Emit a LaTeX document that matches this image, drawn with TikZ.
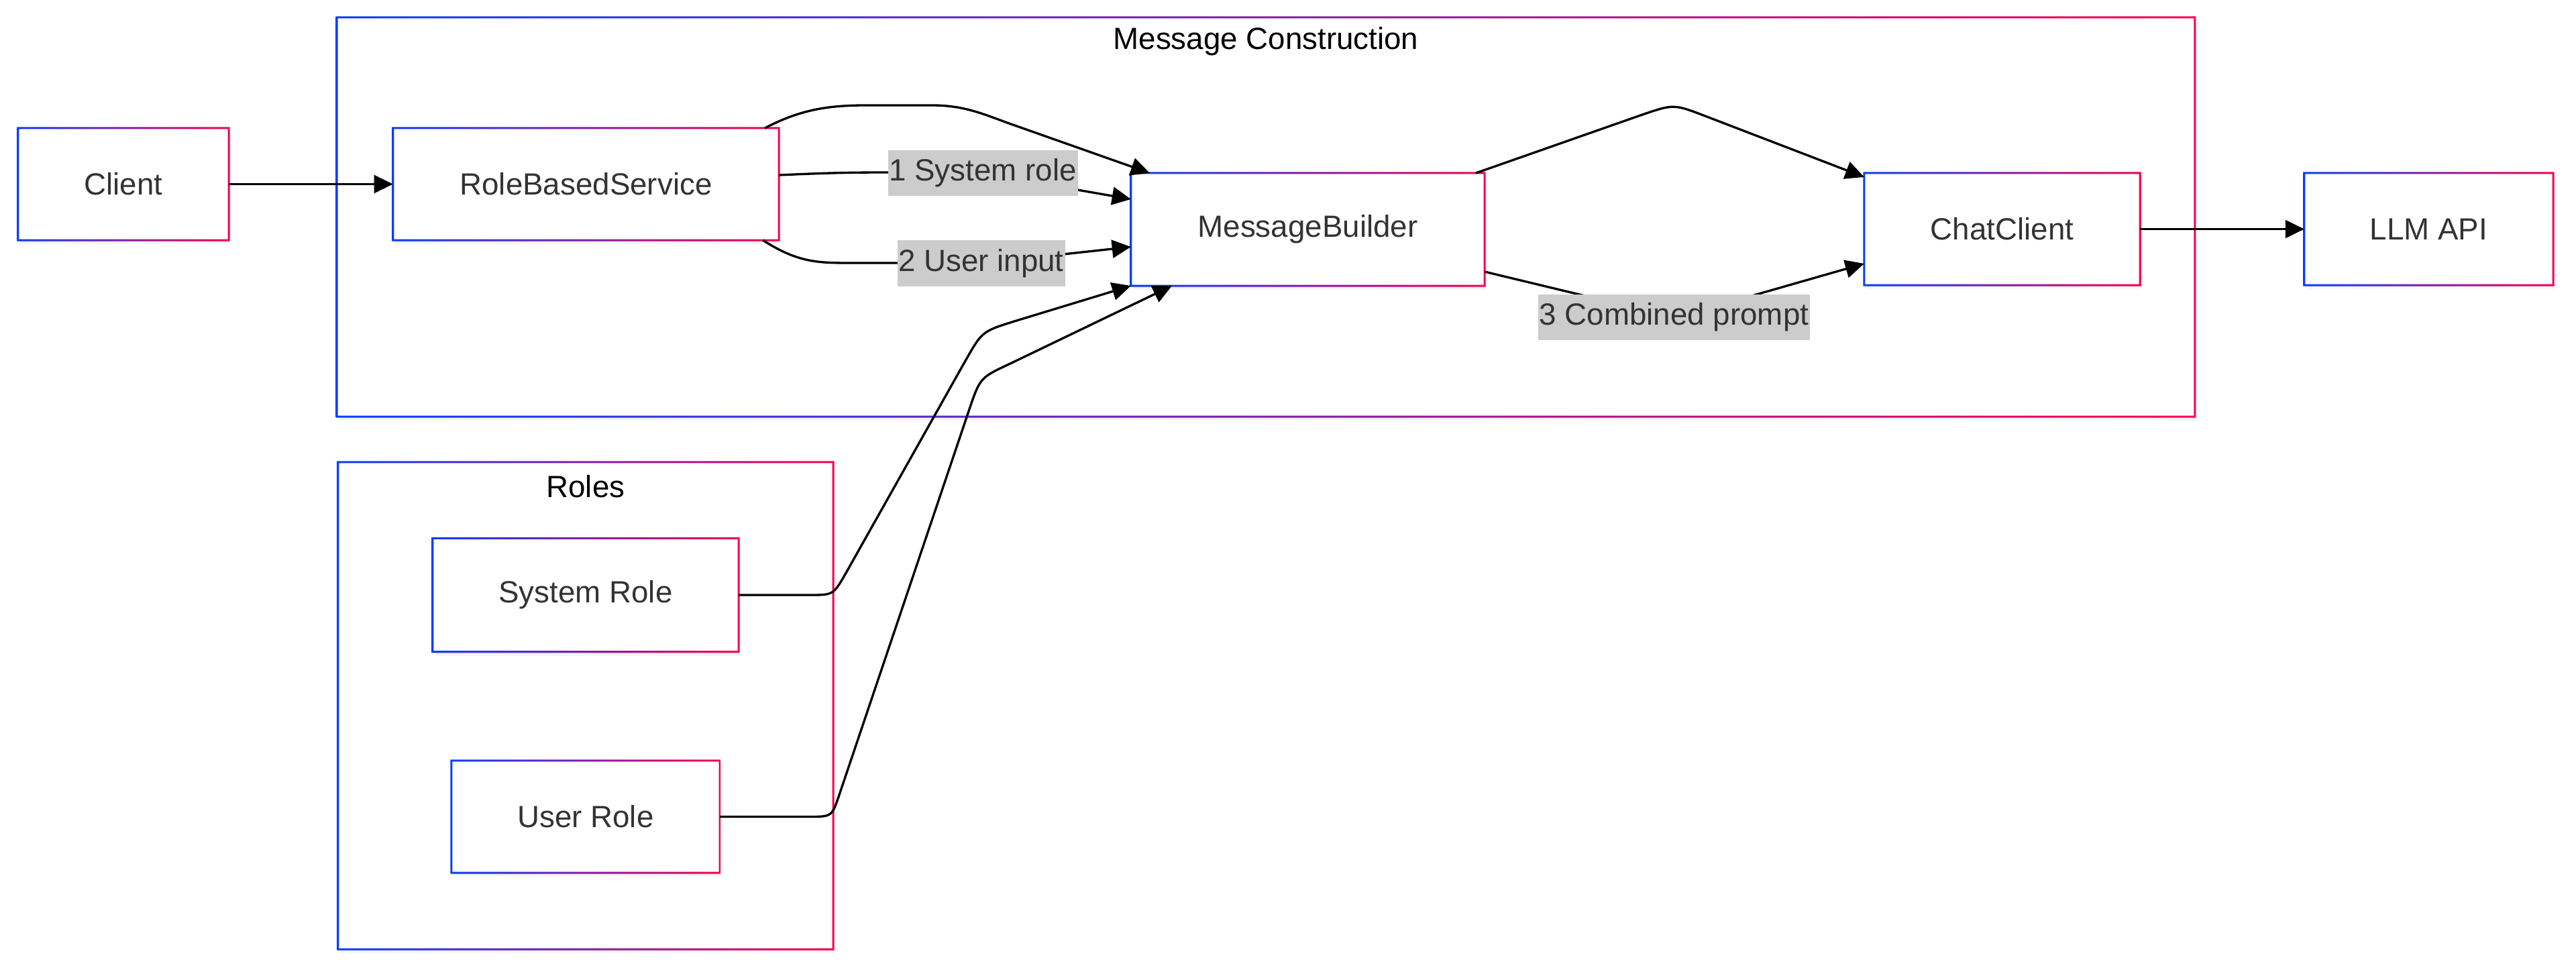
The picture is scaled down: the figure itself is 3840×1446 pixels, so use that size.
\documentclass[tikz,border=0pt]{standalone}
\usepackage{fontspec}
\setmainfont{Liberation Sans}
\usetikzlibrary{arrows.meta,shadows}

\definecolor{gblue}{RGB}{10,60,255}
\definecolor{gred}{RGB}{250,0,80}
\definecolor{txt}{RGB}{51,51,51}
\definecolor{lblbg}{RGB}{204,204,204}

% half the width of the gradient outline
\def\brdw{0.43pt}

% gradient outline (blue on the left, red on the right) around a rectangular node
\newcommand\gradborder[1]{%
  \shade[left color=gblue, right color=gred, even odd rule]
    ([shift={(-\brdw,\brdw)}]#1.north west) rectangle ([shift={(\brdw,-\brdw)}]#1.south east)
    ([shift={(\brdw,-\brdw)}]#1.north west) rectangle ([shift={(-\brdw,\brdw)}]#1.south east);}

\begin{document}
\begin{tikzpicture}[x=0.01cm, y=-0.01cm,
  font=\fontsize{13pt}{15.6pt}\selectfont,
  softshadow/.style={
    general shadow={fill=black, opacity=0.05, shadow xshift=0.4pt, shadow yshift=-0.9pt},
    general shadow={fill=black, opacity=0.035, shadow xshift=0.9pt, shadow yshift=-1.7pt}},
  box/.style={rectangle, inner sep=0pt, outer sep=0pt, fill=white, text=txt, softshadow},
  frame/.style={rectangle, inner sep=0pt, outer sep=0pt, fill=white, softshadow},
  title/.style={text=black, inner sep=0pt},
  lbl/.style={rectangle, fill=lblbg, text=txt, inner xsep=0.5pt, inner ysep=0pt,
    minimum height=0.68cm},
  flow/.style={draw=black, line width=0.95pt, -{Triangle[length=8pt, width=7.6pt]}},
]
\fill[white] (0,0) rectangle (3840,1446);
\useasboundingbox (0,0) rectangle (3840,1446);

% groups
\node[frame, minimum width=27.68cm, minimum height=5.95cm] (mcframe) at (1887,323.5) {};
\gradborder{mcframe}
\node[title] (mctitle) at (1887,62) {Message Construction};

\node[frame, minimum width=7.38cm, minimum height=7.26cm] (rolesframe) at (873,1052) {};
\gradborder{rolesframe}
\node[title] (rolestitle) at (873,725) {Roles};

% components
\node[box, minimum width=3.14cm, minimum height=1.67cm] (client) at (184,274.5) {Client};
\gradborder{client}
\node[box, minimum width=5.75cm, minimum height=1.67cm] (rbs) at (873.5,274.5) {RoleBasedService};
\gradborder{rbs}
\node[box, minimum width=5.27cm, minimum height=1.68cm] (mb) at (1949.5,342) {MessageBuilder};
\gradborder{mb}
\node[box, minimum width=4.11cm, minimum height=1.67cm] (cc) at (2984.5,341.5) {ChatClient};
\gradborder{cc}
\node[box, minimum width=3.71cm, minimum height=1.67cm] (llm) at (3620.5,341.5) {LLM API};
\gradborder{llm}
\node[box, minimum width=4.56cm, minimum height=1.69cm] (sysr) at (873,887) {System Role};
\gradborder{sysr}
\node[box, minimum width=4.00cm, minimum height=1.67cm] (usr) at (873,1217.5) {User Role};
\gradborder{usr}

% connectors
\draw[flow] (client.east) -- (rbs.west);

\draw[flow] ([xshift=-0.21cm]rbs.north east)
  .. controls (1190,165) and (1230,157) .. (1290,157) -- (1390,157)
  .. controls (1440,157) and (1470,172) .. (1510,186) -- ([xshift=0.28cm]mb.north west);

\draw[flow] ([yshift=0.135cm]rbs.east)
  .. controls (1230,258) and (1260,257) .. (1324,257) -- (1606,283) -- ([yshift=0.45cm]mb.west);

\draw[flow] ([xshift=-0.24cm]rbs.south east)
  .. controls (1190,392) and (1220,392) .. (1270,392) -- (1340,392) -- (1585,379) -- ([yshift=-0.26cm]mb.west);

\draw[flow] ([xshift=-0.13cm]mb.north east) -- (2448,171)
  .. controls (2495,155) .. (2542,173) -- ([yshift=-0.06cm]cc.north west);

\draw[flow] ([yshift=-0.63cm]mb.east) -- (2400,450) -- (2580,450) -- ([yshift=-0.515cm]cc.west);

\draw[flow] (cc.east) -- (llm.west);

\draw[flow] (sysr.east) -- (1206,887) .. controls (1242,887) .. (1260,856) -- (1439,538)
  .. controls (1464,494) .. (1512,479) -- (mb.south west);

\draw[flow] (usr.east) -- (1206,1217.5) .. controls (1240,1217.5) .. (1251,1185) -- (1445,610)
  .. controls (1461,563) .. (1506,542) -- ([xshift=0.61cm]mb.south west);

% edge labels
\node[lbl, minimum width=2.82cm] (l1) at (1465,258) {1 System role};
\node[lbl, minimum width=2.45cm] (l2) at (1462.5,392.5) {2 User input};
\node[lbl, minimum width=4.03cm] (l3) at (2495.5,473) {3 Combined prompt};
\end{tikzpicture}
\end{document}
